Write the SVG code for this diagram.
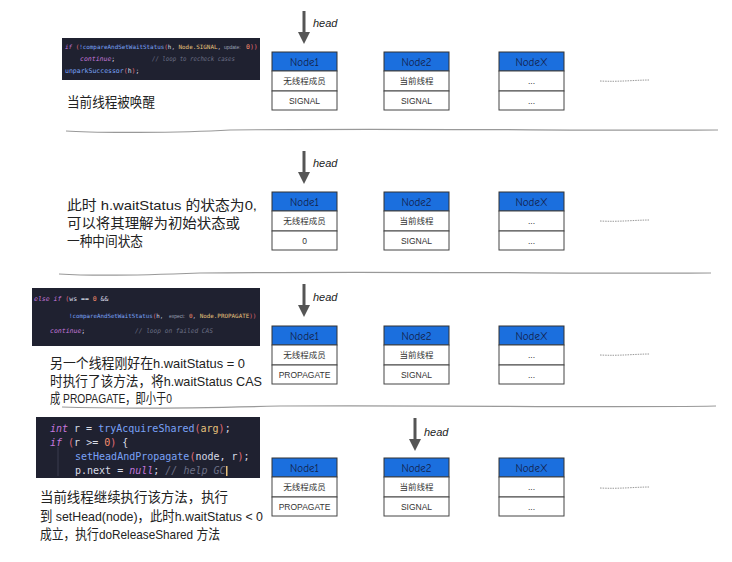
<svg xmlns="http://www.w3.org/2000/svg" width="732" height="562" viewBox="0 0 732 562">
<style>
.hdr{fill:#1b6fde;stroke:#333;stroke-width:1}
.row{fill:#fff;stroke:#444;stroke-width:1}
.nt{font-family:"Comic Neue","Liberation Sans",sans-serif;font-size:11px;fill:#13224a;text-anchor:middle}
.rt{font-family:"Liberation Sans","Noto Sans CJK SC",sans-serif;font-size:8.5px;fill:#333;text-anchor:middle}
.txt{font-family:"Liberation Sans","Noto Sans CJK SC",sans-serif;font-size:13.5px;fill:#222}
.hd{font-family:"Liberation Sans",sans-serif;font-style:italic;font-size:11px;fill:#222}
.sep{fill:none;stroke:#999;stroke-width:1.2}
.arr{stroke:#555;stroke-width:3;fill:none}
.dots{stroke:#999;stroke-width:1;stroke-dasharray:1.5 1;fill:none}
.code{fill:#1f2130}
.cm{font-family:"DejaVu Sans Mono","Liberation Mono",monospace}
.kw{fill:#c678dd;font-style:italic}
.fn{fill:#7aa2f7}
.id{fill:#d8dbe6}
.yl{fill:#e5c07b}
.gy{fill:#6c7086;font-style:italic}
.hint{fill:#9aa0b4;font-family:"Liberation Sans",sans-serif}
.br{fill:#e06c75}
.num{fill:#f78c6c}
</style>
<defs>
<marker id="ah" viewBox="0 0 10 10" refX="5" refY="5" markerWidth="4" markerHeight="4" orient="auto">
<path d="M0,0 L10,5 L0,10 z" fill="#555"/>
</marker>
<g id="nodeShape">
<rect class="hdr" x="0" y="0" width="65" height="19"/>
<rect class="row" x="0" y="19" width="65" height="20"/>
<rect class="row" x="0" y="39" width="65" height="19"/>
</g>
</defs>

<!-- separators -->
<g id="separators">
<path class="sep" d="M66,131 C90,133 180,133 230,130 C400,128 600,131 718,130"/>
<path class="sep" d="M59,274 C90,276 150,275 200,273 C400,271 600,274 711,273"/>
<path class="sep" d="M62,407 C120,409 200,408 280,406 C450,405 600,408 716,406"/>
</g>

<!-- Panel 1 -->
<g id="code1">
<rect class="code" x="62" y="38" width="198" height="42"/>
<text class="cm" x="65" y="49" font-size="5.9"><tspan class="kw">if</tspan><tspan class="br"> (</tspan><tspan class="fn">!compareAndSetWaitStatus</tspan><tspan class="br">(</tspan><tspan class="id">h, </tspan><tspan class="yl">Node.SIGNAL</tspan><tspan class="id">,</tspan></text>
<text class="hint" x="224" y="48.5" font-size="5">update:</text>
<text class="cm" x="246" y="49" font-size="6.5"><tspan class="num">0</tspan><tspan class="br">))</tspan></text>
<text class="cm" x="80" y="61" font-size="6.5"><tspan class="kw">continue</tspan><tspan class="id">;</tspan></text>
<text class="cm gy" x="152" y="61" font-size="6.5" textLength="83" lengthAdjust="spacingAndGlyphs">// loop to recheck cases</text>
<text class="cm" x="65" y="73" font-size="6.5"><tspan class="fn">unparkSuccessor</tspan><tspan class="br">(</tspan><tspan class="id">h</tspan><tspan class="br">)</tspan><tspan class="id">;</tspan></text>
</g>
<text class="txt" x="67" y="107" font-size="15" textLength="88" lengthAdjust="spacingAndGlyphs">当前线程被唤醒</text>

<!-- Panel 2 -->
<g id="desc2">
<text class="txt" x="67" y="210" textLength="190" lengthAdjust="spacingAndGlyphs">此时 h.waitStatus 的状态为0,</text>
<text class="txt" x="67" y="228" textLength="173" lengthAdjust="spacingAndGlyphs">可以将其理解为初始状态或</text>
<text class="txt" x="67" y="246" textLength="76" lengthAdjust="spacingAndGlyphs">一种中间状态</text>
</g>

<!-- Panel 3 -->
<g id="code3">
<rect class="code" x="32" y="288" width="228" height="58"/>
<text class="cm" x="34" y="301" font-size="6.5"><tspan class="kw">else if</tspan><tspan class="br"> (</tspan><tspan class="id">ws == </tspan><tspan class="num">0</tspan><tspan class="id"> &amp;&amp;</tspan></text>
<text class="cm" x="69" y="318" font-size="5.8"><tspan class="fn">!compareAndSetWaitStatus</tspan><tspan class="br">(</tspan><tspan class="id">h,</tspan></text>
<text class="hint" x="169" y="317.5" font-size="5">expect:</text>
<text class="cm" x="189" y="318" font-size="5.9"><tspan class="num">0</tspan><tspan class="id">, </tspan><tspan class="yl">Node.PROPAGATE</tspan><tspan class="br">))</tspan></text>
<text class="cm" x="50" y="333" font-size="6.5"><tspan class="kw">continue</tspan><tspan class="id">;</tspan></text>
<text class="cm gy" x="135" y="333" font-size="6.5" textLength="78" lengthAdjust="spacingAndGlyphs">// loop on failed CAS</text>
</g>
<g id="desc3">
<text class="txt" x="50" y="368" textLength="195" lengthAdjust="spacingAndGlyphs">另一个线程刚好在h.waitStatus = 0</text>
<text class="txt" x="50" y="386" textLength="212" lengthAdjust="spacingAndGlyphs">时执行了该方法，将h.waitStatus CAS</text>
<text class="txt" x="50" y="403" textLength="122" lengthAdjust="spacingAndGlyphs">成 PROPAGATE，即小于0</text>
</g>

<!-- Panel 4 -->
<g id="code4">
<rect class="code" x="36" y="417" width="224" height="61"/>
<line x1="58" y1="447" x2="58" y2="476" stroke="#3a3d4e" stroke-width="1"/>
<text class="cm" x="50" y="432" font-size="10"><tspan class="kw">int</tspan><tspan class="id"> r = </tspan><tspan class="fn">tryAcquireShared</tspan><tspan class="br">(</tspan><tspan class="yl">arg</tspan><tspan class="br">)</tspan><tspan class="id">;</tspan></text>
<text class="cm" x="50" y="446" font-size="10"><tspan class="kw">if</tspan><tspan class="br"> (</tspan><tspan class="id">r &gt;= </tspan><tspan class="num">0</tspan><tspan class="br">)</tspan><tspan class="id"> {</tspan></text>
<text class="cm" x="75" y="460" font-size="10"><tspan class="fn">setHeadAndPropagate</tspan><tspan class="br">(</tspan><tspan class="id">node, r</tspan><tspan class="br">)</tspan><tspan class="id">;</tspan></text>
<text class="cm" x="75" y="474" font-size="10"><tspan class="id">p.next = </tspan><tspan class="kw">null</tspan><tspan class="id">; </tspan><tspan class="gy">// help GC</tspan></text>
<rect x="226" y="466" width="1.5" height="10" fill="#e5c07b"/>
</g>
<g id="desc4">
<text class="txt" x="40" y="502" textLength="188" lengthAdjust="spacingAndGlyphs">当前线程继续执行该方法，执行</text>
<text class="txt" x="40" y="521" textLength="223" lengthAdjust="spacingAndGlyphs">到 setHead(node)，此时h.waitStatus &lt; 0</text>
<text class="txt" x="40" y="539" textLength="180" lengthAdjust="spacingAndGlyphs">成立，执行doReleaseShared 方法</text>
</g>

<!-- Nodes panel 1 -->
<g id="p1-node1" transform="translate(272,52)"><use href="#nodeShape"/><text class="nt" x="32.5" y="14">Node1</text><text class="rt" x="32.5" y="32">无线程成员</text><text class="rt" x="32.5" y="52">SIGNAL</text></g>
<g id="p1-node2" transform="translate(384,52)"><use href="#nodeShape"/><text class="nt" x="32.5" y="14">Node2</text><text class="rt" x="32.5" y="32">当前线程</text><text class="rt" x="32.5" y="52">SIGNAL</text></g>
<g id="p1-nodex" transform="translate(499,52)"><use href="#nodeShape"/><text class="nt" x="32.5" y="14">NodeX</text><text class="rt" x="32.5" y="32">...</text><text class="rt" x="32.5" y="52">...</text></g>

<!-- Nodes panel 2 -->
<g id="p2-node1" transform="translate(272,192)"><use href="#nodeShape"/><text class="nt" x="32.5" y="14">Node1</text><text class="rt" x="32.5" y="32">无线程成员</text><text class="rt" x="32.5" y="52">0</text></g>
<g id="p2-node2" transform="translate(384,192)"><use href="#nodeShape"/><text class="nt" x="32.5" y="14">Node2</text><text class="rt" x="32.5" y="32">当前线程</text><text class="rt" x="32.5" y="52">SIGNAL</text></g>
<g id="p2-nodex" transform="translate(499,192)"><use href="#nodeShape"/><text class="nt" x="32.5" y="14">NodeX</text><text class="rt" x="32.5" y="32">...</text><text class="rt" x="32.5" y="52">...</text></g>

<!-- Nodes panel 3 -->
<g id="p3-node1" transform="translate(272,326)"><use href="#nodeShape"/><text class="nt" x="32.5" y="14">Node1</text><text class="rt" x="32.5" y="32">无线程成员</text><text class="rt" x="32.5" y="52">PROPAGATE</text></g>
<g id="p3-node2" transform="translate(384,326)"><use href="#nodeShape"/><text class="nt" x="32.5" y="14">Node2</text><text class="rt" x="32.5" y="32">当前线程</text><text class="rt" x="32.5" y="52">SIGNAL</text></g>
<g id="p3-nodex" transform="translate(499,326)"><use href="#nodeShape"/><text class="nt" x="32.5" y="14">NodeX</text><text class="rt" x="32.5" y="32">...</text><text class="rt" x="32.5" y="52">...</text></g>

<!-- Nodes panel 4 -->
<g id="p4-node1" transform="translate(272,458)"><use href="#nodeShape"/><text class="nt" x="32.5" y="14">Node1</text><text class="rt" x="32.5" y="32">无线程成员</text><text class="rt" x="32.5" y="52">PROPAGATE</text></g>
<g id="p4-node2" transform="translate(384,458)"><use href="#nodeShape"/><text class="nt" x="32.5" y="14">Node2</text><text class="rt" x="32.5" y="32">当前线程</text><text class="rt" x="32.5" y="52">SIGNAL</text></g>
<g id="p4-nodex" transform="translate(499,458)"><use href="#nodeShape"/><text class="nt" x="32.5" y="14">NodeX</text><text class="rt" x="32.5" y="32">...</text><text class="rt" x="32.5" y="52">...</text></g>

<!-- connectors: head arrows and continuation dots -->
<g id="connectors">
<path class="arr" d="M304,11 L304,38" marker-end="url(#ah)"/>
<path class="arr" d="M304,151 L304,178" marker-end="url(#ah)"/>
<path class="arr" d="M304,284 L304,311" marker-end="url(#ah)"/>
<path class="arr" d="M415,418 L415,445" marker-end="url(#ah)"/>
<path class="dots" d="M600,81 C620,82 635,80 650,80"/>
<path class="dots" d="M600,221 C620,222 635,220 650,220"/>
<path class="dots" d="M600,355 C620,356 635,354 650,354"/>
<path class="dots" d="M600,488 C620,489 635,487 650,487"/>
</g>
<text class="hd" x="313" y="27">head</text>
<text class="hd" x="313" y="167">head</text>
<text class="hd" x="313" y="301">head</text>
<text class="hd" x="424" y="436">head</text>
</svg>
